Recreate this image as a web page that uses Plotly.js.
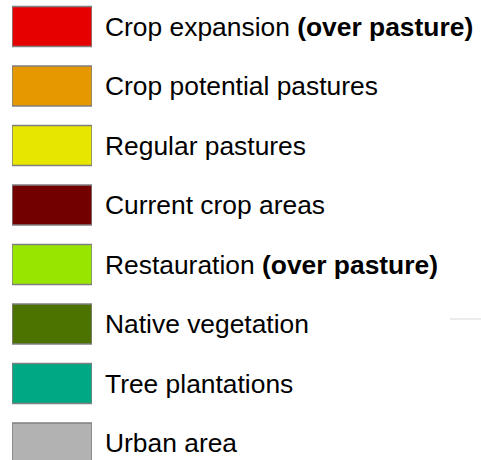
<!DOCTYPE html>
<html>
<head>
<meta charset="utf-8">
<script src="https://cdn.plot.ly/plotly-3.0.1.min.js"></script>
<style>html,body{margin:0;padding:0;background:#fff;}</style>
</head>
<body>
<div id="chart" style="width:481px;height:460px;"></div>
<script>
const categories = ["crop_expansion","crop_potential","regular_pastures","current_crop","restauration","native_veg","tree_plantations","urban"];
const labels = [
  "Crop expansion <b>(over pasture)</b>",
  "Crop potential pastures",
  "Regular pastures",
  "Current crop areas",
  "Restauration <b>(over pasture)</b>",
  "Native vegetation",
  "Tree plantations",
  "Urban area"
];
const values = [1,1,1,1,1,1,1,1];
const colors = ["#e60000","#e69800","#e6e600","#730000","#98e600","#4c7300","#00a884","#b2b2b2"];

const trace = {
  type: "bar",
  orientation: "h",
  y: categories,
  x: values,
  width: 0.67,
  marker: {color: colors, line: {color: "#808080", width: 1.5}},
  hoverinfo: "skip",
  showlegend: false
};

const layout = {
  width: 481,
  height: 460,
  margin: {l: 12, r: 389, t: 0, b: 0, pad: 0},
  paper_bgcolor: "#ffffff",
  plot_bgcolor: "#ffffff",
  showlegend: false,
  xaxis: {range: [0, 1], visible: false, fixedrange: true},
  yaxis: {
    type: "category",
    categoryorder: "array",
    categoryarray: categories,
    tickvals: categories,
    ticktext: labels,
    range: [7.285, -0.445],
    side: "right",
    showgrid: false,
    zeroline: false,
    showline: false,
    ticks: "",
    ticklabelstandoff: 12,
    tickfont: {family: "Liberation Sans, Arial, sans-serif", size: 26.4, color: "#000000"}
  },
  shapes: [{
    type: "line", xref: "paper", yref: "paper",
    x0: (450-12)/80, x1: (481-12)/80,
    y0: 1 - 319/460, y1: 1 - 319/460,
    line: {color: "#d9d9d9", width: 1}
  }]
};

Plotly.newPlot("chart", [trace], layout, {displayModeBar: false, staticPlot: true});
</script>
</body>
</html>
